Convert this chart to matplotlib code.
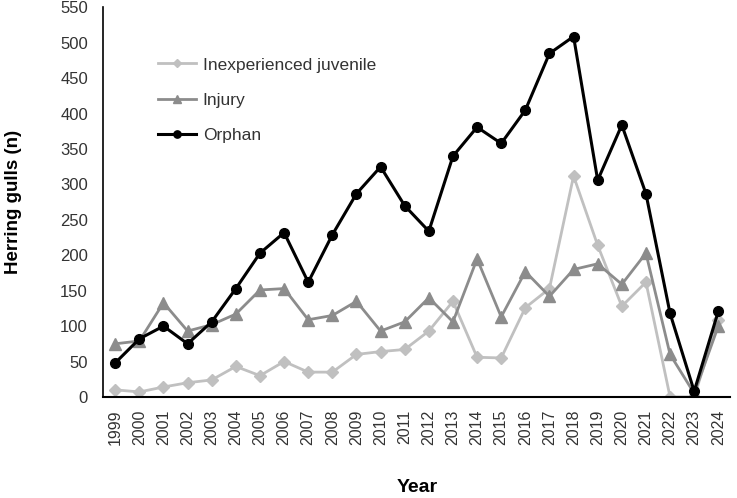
import matplotlib
import matplotlib.pyplot as plt

matplotlib.use('Agg')

plt.rcParams['font.family'] = ['Liberation Sans', 'DejaVu Sans']

years = list(range(1999, 2025))
juvenile = [10, 7, 14, 20, 24, 43, 30, 50, 35, 35, 60, 64, 67, 93, 135, 56, 55, 126,
            153, 312, 214, 128, 162, 0, 0, 108]
injury = [75, 79, 133, 93, 102, 117, 151, 153, 109, 115, 135, 93, 106, 140, 106, 195,
          113, 177, 142, 180, 188, 159, 203, 60, 5, 100]
orphan = [48, 82, 100, 75, 106, 153, 203, 232, 162, 229, 287, 325, 270, 234, 340, 381,
          358, 405, 485, 509, 306, 384, 287, 118, 8, 121]

fig = plt.figure(figsize=(7.37, 4.98), dpi=100)
ax = fig.add_axes([0.14, 0.203, 0.851, 0.782])

x = list(range(len(years)))
ax.plot(x, juvenile, marker='D', color='#c0c0c0', lw=2, ms=6, label='Inexperienced juvenile')
ax.plot(x, injury, marker='^', color='#8c8c8c', lw=2, ms=8, label='Injury')
ax.plot(x, orphan, marker='o', color='black', lw=2.2, ms=7, label='Orphan')

ax.set_xlim(-0.5, len(years) - 0.5)
ax.set_ylim(0, 550)
ax.set_yticks(range(0, 551, 50))
ax.set_xticks(x)
ax.set_xticklabels([str(y) for y in years], rotation=90, fontsize=11.5)
ax.tick_params(axis='y', labelsize=12, length=0, pad=11, labelcolor='#333333')
ax.tick_params(axis='x', length=0, pad=9, labelcolor='#333333')

ax.spines['top'].set_visible(False)
ax.spines['right'].set_visible(False)
ax.spines['left'].set_linewidth(1.2)
ax.spines['bottom'].set_linewidth(1.5)

ax.set_ylabel('Herring gulls (n)', fontsize=13.5, fontweight='bold')
ax.set_xlabel('Year', fontsize=14, fontweight='bold')
ax.yaxis.set_label_coords(-0.13, 0.5)
ax.xaxis.set_label_coords(0.5, -0.212)

leg = ax.legend(loc='upper left', bbox_to_anchor=(0.062, 0.912), frameon=False,
                fontsize=12.5, labelspacing=1.15, handlelength=2.2, handletextpad=0.4,
                markerscale=0.75)
for t in leg.get_texts():
    t.set_color('#333333')

plt.savefig('out.png')
